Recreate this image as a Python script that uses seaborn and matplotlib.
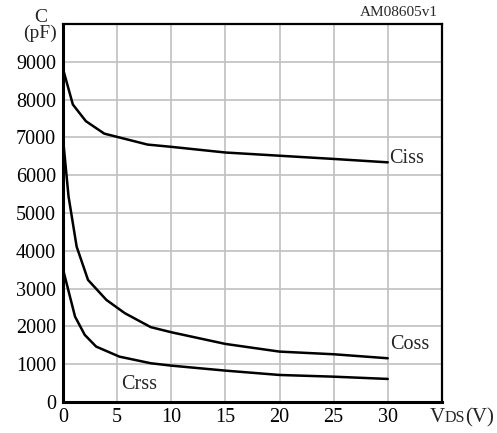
import matplotlib
matplotlib.use("Agg")
import matplotlib.pyplot as plt
import seaborn as sns
import pandas as pd
from matplotlib.offsetbox import TextArea, HPacker, AnnotationBbox

ciss_v = [0, 0.9, 2.1, 3.8, 7.8, 10, 15, 20, 25, 30]
ciss_c = [8800, 7870, 7430, 7100, 6810, 6750, 6600, 6515, 6430, 6340]
coss_v = [0, 0.5, 1.25, 2.3, 4.0, 5.7, 8.1, 10, 15, 20, 25, 30]
coss_c = [6940, 5440, 4110, 3230, 2700, 2350, 1980, 1845, 1536, 1333, 1263, 1157]
crss_v = [0, 1.1, 2.0, 3.05, 5.2, 8.1, 10, 15, 20, 25, 30]
crss_c = [3500, 2260, 1775, 1466, 1200, 1025, 962, 830, 715, 670, 610]

xticks = [0, 5, 10, 15, 20, 25, 30]
yticks = [0, 1000, 2000, 3000, 4000, 5000, 6000, 7000, 8000, 9000]

frames = []
for name, v, c in [("Ciss", ciss_v, ciss_c), ("Coss", coss_v, coss_c), ("Crss", crss_v, crss_c)]:
    frames.append(pd.DataFrame({"Vds": v, "C": c, "series": name}))
df = pd.concat(frames, ignore_index=True)

sns.set_theme(style="white")
plt.rcParams["font.family"] = ["Liberation Serif", "DejaVu Serif"]

fig = plt.figure(figsize=(4.97, 4.33), dpi=100)
ax = fig.add_axes([0.127, 0.0716, 0.762, 0.873])

sns.lineplot(data=df, x="Vds", y="C", units="series", estimator=None,
             color="black", linewidth=1.8, sort=False, ax=ax, legend=False)

ax.set_xlim(0, 35)
ax.set_ylim(0, 10000)
ax.set_xticks(xticks)
ax.set_yticks(yticks)
ax.set_xticklabels([str(t) for t in xticks], fontsize=14.5)
ax.set_yticklabels([str(t) for t in yticks], fontsize=14.5)
ax.set_xlabel("")
ax.set_ylabel("")
ax.grid(True, color="#c0c0c0", linewidth=1.2)
ax.set_axisbelow(True)
for s in ax.spines.values():
    s.set_color("black")
    s.set_linewidth(1.6)
ax.spines["left"].set_linewidth(2.2)
ax.spines["bottom"].set_linewidth(2.2)
ax.tick_params(axis="both", length=0, pad=4, colors="black")
ax.tick_params(axis="y", pad=5)

ax.text(30.1, 6450, "Ciss", fontsize=14.5, ha="left", va="center")
ax.text(30.2, 1530, "Coss", fontsize=14.5, ha="left", va="center")
ax.text(5.4, 470, "Crss", fontsize=14.5, ha="left", va="center")

fig.text(0.081, 0.98, "C\n(pF)", fontsize=14, ha="center", va="top",
         linespacing=0.9, multialignment="center")
fig.text(0.88, 0.955, "AM08605v1", fontsize=11, ha="right", va="bottom")

ta1 = TextArea("V", textprops=dict(fontsize=15, family=["Liberation Serif"]))
ta2 = TextArea("DS", textprops=dict(fontsize=11.5, family=["Liberation Serif"]))
ta3 = TextArea("(V)", textprops=dict(fontsize=15, family=["Liberation Serif"]))
pack = HPacker(children=[ta1, ta2, ta3], align="baseline", pad=0, sep=0)
ab = AnnotationBbox(pack, (0.929, 0.035), xycoords="figure fraction",
                    frameon=False, box_alignment=(0.5, 0.5))
fig.add_artist(ab)

fig.savefig("out.png", dpi=100)
